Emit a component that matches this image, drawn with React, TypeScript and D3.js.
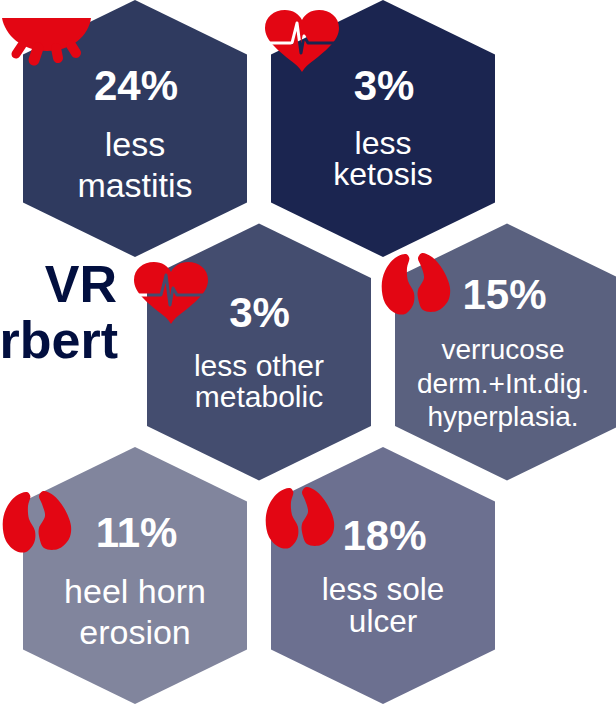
import * as d3 from "d3";

const percents = ["24%", "3%", "3%", "15%", "11%", "18%"];
const labels = [
  ["less", "mastitis"],
  ["less", "ketosis"],
  ["less other", "metabolic"],
  ["verrucose", "derm.+Int.dig.", "hyperplasia."],
  ["heel horn", "erosion"],
  ["less sole", "ulcer"],
];
const fills = ["#2f3a5f", "#1b2550", "#444d6f", "#5a617f", "#81859d", "#6c7090"];
const icons = ["udder", "heart", "heart", "kidney", "kidney", "kidney"];

const width = 616;
const height = 706;
const red = "#e30613";

// hexagon grid, column and row of each cell
const cols = [0, 1, 0.5, 1.5, 0, 1];
const rows = [0, 0, 1, 1, 2, 2];
const xScale = d3.scaleLinear().domain([0, 1]).range([135, 383]);
const yScale = d3.scaleLinear().domain([0, 1]).range([0, 223.5]);
const hexW = 112;
const hexH = 257;
const hexShoulder = 54.5;

const iconX = [2, 265, 134, 381, 2, 265];
const iconY = [18, 10, 262, 253, 491, 487];
const pctX = [136, 384, 259.5, 504.5, 136.5, 384.5];
const pctY = [100, 100, 327, 309, 547, 550];
const labelX = [135, 383, 259, 503, 135, 383];
const labelY = [156, 154, 376, 359, 603, 600];
const labelStep = [41, 31, 31, 33.5, 41, 32];
const labelSize = [34, 32, 30, 28, 34, 31.5];
const pctSize = 42;

const hexLine = d3.line();
const closedCurve = d3.line().curve(d3.curveCatmullRomClosed.alpha(0.5));

function hexPath(cx: number, top: number) {
  const pts: [number, number][] = [
    [cx, top],
    [cx + hexW, top + hexShoulder],
    [cx + hexW, top + hexH - hexShoulder],
    [cx, top + hexH],
    [cx - hexW, top + hexH - hexShoulder],
    [cx - hexW, top + hexShoulder],
  ];
  return hexLine(pts) + "Z";
}

const kidneyLeft: [number, number][] = [
  [25, 1], [28.3, 5], [26, 15], [27, 28], [33, 40], [32, 52], [24, 61],
  [14, 60], [4, 50], [0.7, 33], [4, 18], [14, 5],
];
const kidneyRight: [number, number][] = [
  [41, 0], [37, 5], [40, 13], [43, 25], [37, 37], [37, 45], [42, 57],
  [56, 58], [67, 48], [69, 35], [62, 17], [51, 4],
];
const ecg: [number, number][] = [
  [-2, 33], [27, 33], [32, 13], [36, 43], [39, 26], [43, 33], [76, 33],
];
// x1, y1, x2, y2, stroke width
const udderTeats: [number, number, number, number, number][] = [
  [20, 27, 14, 36, 9],
  [36, 30, 32, 42, 11],
  [54, 30, 56, 40, 10],
  [69, 27, 74, 35, 10],
];

function Kidney({ x, y }: { x: number; y: number }) {
  return (
    <g transform={`translate(${x},${y})`} fill={red}>
      <path d={closedCurve(kidneyLeft) ?? ""} />
      <path d={closedCurve(kidneyRight) ?? ""} />
    </g>
  );
}

function Heart({ x, y, id }: { x: number; y: number; id: string }) {
  return (
    <g transform={`translate(${x},${y})`}>
      <mask id={id} maskUnits="userSpaceOnUse" x={-5} y={-5} width={90} height={80}>
        <rect x={-5} y={-5} width={90} height={80} fill="#fff" />
        <path d={hexLine(ecg) ?? ""} fill="none" stroke="#000" strokeWidth={3} strokeLinejoin="round" />
      </mask>
      <path
        mask={`url(#${id})`}
        fill={red}
        d="M37 62C32 53 20 48 9 36C3 30 0 24 0 18C0 7 9 0 20 0C28 0 34 4 37 10C40 4 46 0 54 0C65 0 74 7 74 18C74 24 71 30 65 36C54 48 42 53 37 62Z"
      />
    </g>
  );
}

function Udder({ x, y }: { x: number; y: number }) {
  return (
    <g transform={`translate(${x},${y})`} fill={red}>
      <path d="M0 0H89C87 17 70 33 45 33C20 33 3 17 0 0Z" />
      {udderTeats.map(([x1, y1, x2, y2, w], i) => (
        <line
          key={i}
          x1={x1}
          y1={y1}
          x2={x2}
          y2={y2}
          stroke={red}
          strokeWidth={w}
          strokeLinecap="round"
        />
      ))}
    </g>
  );
}

export default function App() {
  return (
    <svg
      width={width}
      height={height}
      style={{ position: "absolute", left: 0, top: 0 }}
      fontFamily="'Liberation Sans', Arial, sans-serif"
    >
      <rect width={width} height={height} fill="#fff" />
      {fills.map((f, i) => (
        <path key={i} d={hexPath(xScale(cols[i]), yScale(rows[i]))} fill={f} />
      ))}
      <g fill="#020f3f" fontWeight="bold" fontSize={52} textAnchor="end">
        <text x={117} y={302}>VR</text>
        <text x={118} y={358}>rbert</text>
      </g>
      {percents.map((p, i) => (
        <text
          key={i}
          x={pctX[i]}
          y={pctY[i]}
          fill="#fff"
          fontWeight="bold"
          fontSize={pctSize}
          textAnchor="middle"
        >
          {p}
        </text>
      ))}
      {labels.map((lines, i) => (
        <text key={i} fill="#fff" fontSize={labelSize[i]} textAnchor="middle">
          {lines.map((l, j) => (
            <tspan key={j} x={labelX[i]} y={labelY[i] + j * labelStep[i]}>
              {l}
            </tspan>
          ))}
        </text>
      ))}
      {icons.map((ic, i) =>
        ic === "udder" ? (
          <Udder key={i} x={iconX[i]} y={iconY[i]} />
        ) : ic === "heart" ? (
          <Heart key={i} x={iconX[i]} y={iconY[i]} id={`ecg-${i}`} />
        ) : (
          <Kidney key={i} x={iconX[i]} y={iconY[i]} />
        )
      )}
    </svg>
  );
}
